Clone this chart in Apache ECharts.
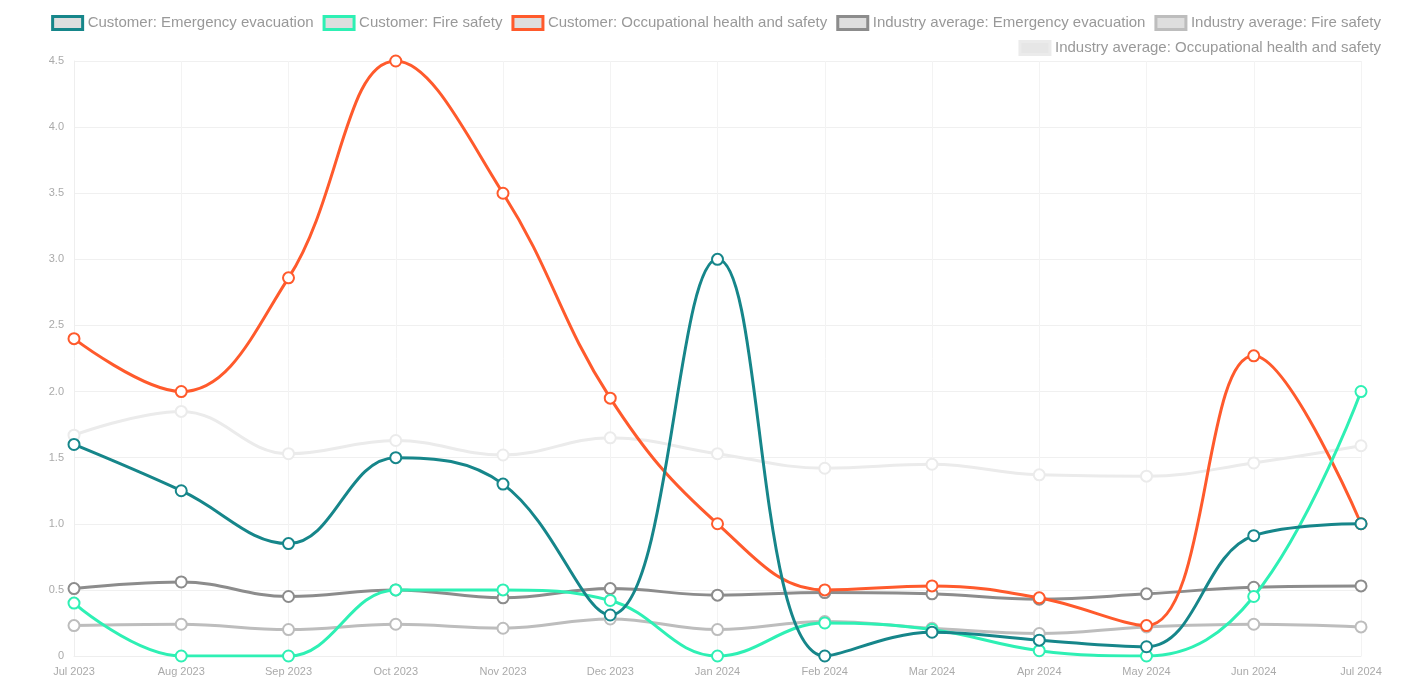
<!DOCTYPE html>
<html>
<head>
<meta charset="utf-8">
<script src="https://cdn.jsdelivr.net/npm/echarts@6/dist/echarts.min.js"></script>
<style>
  html, body { margin: 0; padding: 0; background: #fff; }
  #chart { width: 1426px; height: 687px; }
</style>
</head>
<body>
<div id="chart"></div>
<script>
var months = ['Jul 2023', 'Aug 2023', 'Sep 2023', 'Oct 2023', 'Nov 2023', 'Dec 2023',
  'Jan 2024', 'Feb 2024', 'Mar 2024', 'Apr 2024', 'May 2024', 'Jun 2024', 'Jul 2024'];

var custEvac = [1.6, 1.25, 0.85, 1.5, 1.3, 0.31, 3.0, 0.0, 0.18, 0.12, 0.07, 0.91, 1.0];
var custFire = [0.4, 0.0, 0.0, 0.5, 0.5, 0.42, 0.0, 0.25, 0.2, 0.04, 0.0, 0.45, 2.0];
var custOhs = [2.4, 2.0, 2.86, 4.5, 3.5, 1.95, 1.0, 0.5, 0.53, 0.44, 0.23, 2.27, 1.0];
var avgEvac = [0.51, 0.56, 0.45, 0.5, 0.44, 0.51, 0.46, 0.48, 0.47, 0.43, 0.47, 0.52, 0.53];
var avgFire = [0.23, 0.24, 0.2, 0.24, 0.21, 0.28, 0.2, 0.26, 0.21, 0.17, 0.22, 0.24, 0.22];
var avgOhs = [1.67, 1.85, 1.53, 1.63, 1.52, 1.65, 1.53, 1.42, 1.45, 1.37, 1.36, 1.46, 1.59];

var names = ['Customer: Emergency evacuation', 'Customer: Fire safety',
  'Customer: Occupational health and safety', 'Industry average: Emergency evacuation',
  'Industry average: Fire safety', 'Industry average: Occupational health and safety'];
var colors = ['#16868a', '#2ef0b4', '#ff5a2c', '#8c8c8c', '#bdbdbd', '#ebebeb'];
var values = [custEvac, custFire, custOhs, avgEvac, avgFire, avgOhs];

var chart = echarts.init(document.getElementById('chart'));

var legendBase = {
  icon: 'rect',
  itemWidth: 30,
  itemHeight: 13,
  itemGap: 9,
  textStyle: { color: '#999', fontSize: 15, fontFamily: 'Liberation Sans, Arial, sans-serif' },
  itemStyle: { color: '#dedede', borderWidth: 3 }
};

var series = names.map(function (name, i) {
  return {
    name: name,
    type: 'line',
    smooth: 0.4,
    data: values[i],
    symbol: 'emptyCircle',
    symbolSize: 11,
    z: 10 - i,
    lineStyle: { color: colors[i], width: 3 },
    itemStyle: { color: colors[i], borderColor: colors[i], borderWidth: 3 }
  };
});

var option = {
  animation: false,
  legend: [
    Object.assign({}, legendBase, { data: names.slice(0, 5), right: 40, top: 10 }),
    Object.assign({}, legendBase, {
      data: names.slice(5),
      right: 40,
      top: 35,
      itemStyle: { color: '#e6e6e6', borderColor: '#ebebeb', borderWidth: 3 }
    })
  ],
  grid: { left: 74, right: 65, top: 61, bottom: 31, containLabel: false },
  xAxis: {
    type: 'category',
    data: months,
    boundaryGap: false,
    axisLine: { lineStyle: { color: '#eeeeee' } },
    axisTick: { show: false },
    axisLabel: { color: '#aaa', fontSize: 11, margin: 10, fontFamily: 'Liberation Sans, Arial, sans-serif' },
    splitLine: { show: true, lineStyle: { color: '#f3f3f3' } }
  },
  yAxis: {
    type: 'value',
    min: 0,
    max: 4.5,
    interval: 0.5,
    axisLine: { show: true, lineStyle: { color: '#eeeeee' } },
    axisTick: { show: false },
    axisLabel: {
      color: '#aaa', fontSize: 11, margin: 10,
      fontFamily: 'Liberation Sans, Arial, sans-serif',
      formatter: function (v) { return v === 0 ? '0' : v.toFixed(1); }
    },
    splitLine: { lineStyle: { color: '#f0f0f0' } }
  },
  series: series
};

chart.setOption(option);
</script>
</body>
</html>
